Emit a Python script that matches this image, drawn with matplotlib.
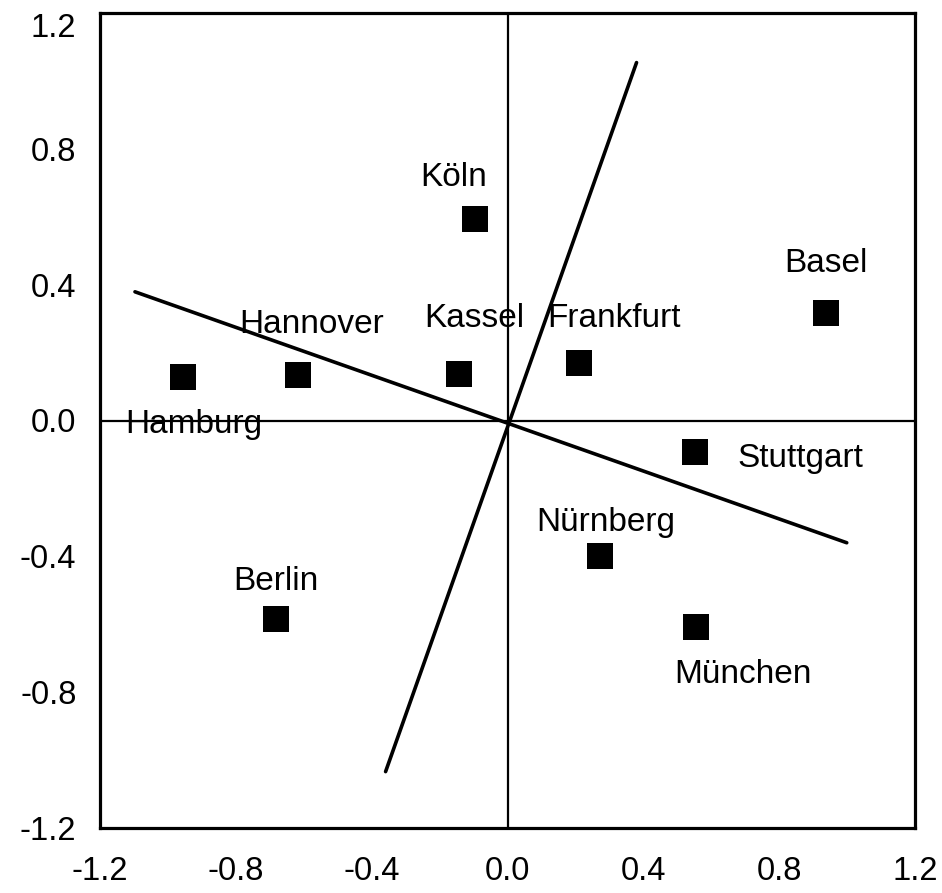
import matplotlib
matplotlib.use("Agg")
import matplotlib.pyplot as plt
import numpy as np

plt.rcParams['font.family'] = ['Liberation Sans', 'DejaVu Sans']

cities = ["Köln", "Kassel", "Frankfurt", "Hannover", "Hamburg",
          "Basel", "Stuttgart", "Nürnberg", "München", "Berlin"]
x_vals = [-0.096, -0.143, 0.211, -0.617, -0.957, 0.938, 0.552, 0.272, 0.554, -0.682]
y_vals = [0.593, 0.137, 0.169, 0.134, 0.128, 0.318, -0.093, -0.398, -0.608, -0.586]

# label offsets (points) relative to marker: dx, dy (baseline)
label_offsets = [(-15, 24), (11, 34), (25, 26), (10, 30), (8, -40),
                 (0, 29), (76, -11), (4, 18), (34, -40), (0, 21)]

# two axis lines (vectors)
line1_x = [-1.097, 0.999]
line1_y = [0.379, -0.360]
line2_x = [-0.359, 0.380]
line2_y = [-1.034, 1.054]

ticks = [-1.2, -0.8, -0.4, 0.0, 0.4, 0.8, 1.2]
tick_labels = ["-1.2", "-0.8", "-0.4", "0.0", "0.4", "0.8", "1.2"]

fig = plt.figure(figsize=(9.42, 8.93), dpi=100)
ax = fig.add_axes([100/942, 1-828/893, 815/942, 815/893])
ax.set_xlim(-1.2, 1.2)
ax.set_ylim(-1.2, 1.2)

ax.axhline(0, color='black', lw=1.6, zorder=1)
ax.axvline(0, color='black', lw=1.6, zorder=1)

ax.plot(line1_x, line1_y, color='black', lw=2.6, solid_capstyle='round', zorder=2)
ax.plot(line2_x, line2_y, color='black', lw=2.6, solid_capstyle='round', zorder=2)

ax.plot(x_vals, y_vals, linestyle='none', marker='s', markersize=19,
        color='black', markeredgewidth=0, zorder=3)

for name, xv, yv, (dx, dy) in zip(cities, x_vals, y_vals, label_offsets):
    ax.annotate(name, (xv, yv), xytext=(dx, dy), textcoords='offset points',
                ha='center', va='baseline', fontsize=24, color='black', zorder=4)

ax.set_xticks(ticks)
ax.set_xticklabels(tick_labels)
ax.set_yticks(ticks)
ax.set_yticklabels(tick_labels)
ax.tick_params(axis='x', length=0, pad=20, labelsize=23.5)
ax.tick_params(axis='y', length=0, pad=17, labelsize=23.5)
ax.get_yticklabels()[-1].set_va('top')

for s in ax.spines.values():
    s.set_linewidth(2.3)
    s.set_color('black')

fig.savefig("out.png", dpi=100)
